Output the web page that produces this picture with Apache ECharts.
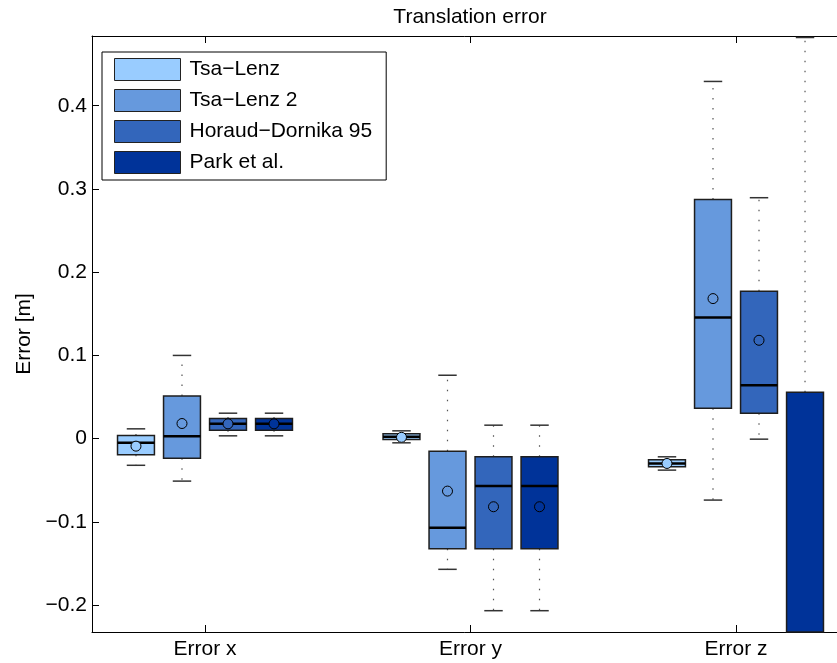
<!DOCTYPE html>
<html>
<head>
<meta charset="utf-8">
<script src="https://cdn.jsdelivr.net/npm/echarts@6/dist/echarts.min.js"></script>
<style>
html,body{margin:0;padding:0;background:#fff;overflow:hidden;}
#chart{width:837px;height:663px;}
</style>
</head>
<body>
<div id="chart"></div>
<script>
// ---------- data ----------
const categories = ['Error x', 'Error y', 'Error z'];
const methods = ['Tsa\u2212Lenz', 'Tsa\u2212Lenz 2', 'Horaud\u2212Dornika 95', 'Park et al.'];
const colors = ['#99CCFF', '#6699DD', '#3366BB', '#003399'];
const yTicks = [-0.2, -0.1, 0, 0.1, 0.2, 0.3, 0.4];

// [lower whisker, Q1, median, Q3, upper whisker] per category
const tsaLenzBox = [
  [-0.032, -0.0194, -0.005, 0.0038, 0.0118],
  [-0.005, -0.001, 0.0022, 0.0058, 0.0094],
  [-0.0378, -0.0338, -0.0298, -0.0254, -0.0218]
];
const tsaLenz2Box = [
  [-0.051, -0.0234, 0.003, 0.0514, 0.100],
  [-0.157, -0.1323, -0.107, -0.015, 0.0762],
  [-0.0738, 0.0366, 0.1455, 0.2875, 0.4292]
];
const horaudBox = [
  [0.0034, 0.0102, 0.0178, 0.0242, 0.0306],
  [-0.2067, -0.1323, -0.057, -0.0218, 0.0162],
  [-0.0006, 0.0306, 0.0642, 0.177, 0.2895]
];
const parkBox = [
  [0.0034, 0.0102, 0.0178, 0.0242, 0.0306],
  [-0.2067, -0.1323, -0.057, -0.0218, 0.0162],
  [-1.10, -0.62, -0.35, 0.0558, 0.482]
];
const tsaLenzMean = [-0.009, 0.0016, -0.0298];
const tsaLenz2Mean = [0.0182, -0.063, 0.1683];
const horaudMean = [0.0178, -0.0818, 0.1182];
const parkMean = [0.0178, -0.0818, -0.30];

const boxes = [tsaLenzBox, tsaLenz2Box, horaudBox, parkBox];
const means = [tsaLenzMean, tsaLenz2Mean, horaudMean, parkMean];

// ---------- layout constants ----------
const FONT = '"Liberation Sans", Arial, Helvetica, sans-serif';
const FS = 21;
const X_MIN = -0.4256, X_MAX = 2.4256;
const Y_MIN = -0.2323, Y_MAX = 0.4838;
const BOX_STEP = 0.1733;   // distance between boxes within a group
const BOX_W = 0.139;       // box width in x units

function fmtY(v) {
  const r = Math.round(v * 10) / 10;
  if (Math.abs(r) < 1e-9) return '0';
  return (r < 0 ? '\u2212' : '') + Math.abs(r).toFixed(1);
}

function makeSeries(mi) {
  const offset = (mi - 1.5) * BOX_STEP;
  const data = categories.map((c, ci) => [ci + offset].concat(boxes[mi][ci], [means[mi][ci]]));
  return {
    name: methods[mi],
    type: 'custom',
    itemStyle: { color: colors[mi], borderColor: '#222', borderWidth: 1 },
    data: data,
    encode: { x: 0, y: [1, 2, 3, 4, 5, 6] },
    renderItem: function (params, api) {
      const cs = params.coordSys;
      const top = cs.y, bot = cs.y + cs.height;
      const clampY = y => Math.max(top, Math.min(bot, y));
      const xc = api.value(0);
      const vLow = api.value(1), vQ1 = api.value(2), vMed = api.value(3),
            vQ3 = api.value(4), vHigh = api.value(5), vMean = api.value(6);
      const pc = api.coord([xc, vMed]);
      const pl = api.coord([xc - BOX_W / 2, vMed]);
      const pr = api.coord([xc + BOX_W / 2, vMed]);
      const cx = pc[0], xL = pl[0], xR = pr[0];
      const w = xR - xL;
      const yLow = api.coord([xc, vLow])[1];
      const yQ1 = api.coord([xc, vQ1])[1];
      const yMed = pc[1];
      const yQ3 = api.coord([xc, vQ3])[1];
      const yHigh = api.coord([xc, vHigh])[1];
      const yMean = api.coord([xc, vMean])[1];
      const capHalf = w / 4;
      const children = [];
      const dotted = { stroke: '#555', lineWidth: 1.2, lineDash: [1.5, 8.5] };
      // whiskers
      children.push({ type: 'line', shape: { x1: cx, y1: clampY(yQ3), x2: cx, y2: clampY(yHigh) }, style: dotted, silent: true });
      children.push({ type: 'line', shape: { x1: cx, y1: clampY(yQ1), x2: cx, y2: clampY(yLow) }, style: dotted, silent: true });
      // box
      const bt = clampY(yQ3), bb = clampY(yQ1);
      children.push({
        type: 'rect',
        shape: { x: xL, y: bt, width: w, height: bb - bt },
        style: { fill: colors[mi], stroke: '#1e1e1e', lineWidth: 1.5 },
        silent: true
      });
      // median
      if (yMed >= top && yMed <= bot) {
        children.push({ type: 'line', shape: { x1: xL, y1: yMed, x2: xR, y2: yMed }, style: { stroke: '#000', lineWidth: 2.5 }, silent: true });
      }
      // mean
      if (yMean >= top && yMean <= bot) {
        children.push({ type: 'circle', shape: { cx: cx, cy: yMean, r: 5 }, style: { fill: colors[mi], stroke: '#000', lineWidth: 1 }, silent: true });
      }
      // caps
      [yHigh, yLow].forEach(y => {
        if (y >= top - 0.5 && y <= bot + 0.5) {
          children.push({ type: 'line', shape: { x1: cx - capHalf, y1: y, x2: cx + capHalf, y2: y }, style: { stroke: '#333', lineWidth: 1.5 }, silent: true });
        }
      });
      return { type: 'group', children: children };
    }
  };
}

const chart = echarts.init(document.getElementById('chart'), null, { renderer: 'canvas' });

const axisLineStyle = { color: '#000', width: 1 };
const option = {
  animation: false,
  backgroundColor: '#fff',
  textStyle: { fontFamily: FONT },
  grid: { left: 92, width: 757, top: 36, bottom: 31, containLabel: false, outerBoundsMode: 'none' },
  graphic: [{
    type: 'text', x: 470, y: 17,
    style: { text: 'Translation error', font: FS + 'px ' + FONT, fill: '#000', textAlign: 'center', textVerticalAlign: 'middle' }
  }],
  legend: {
    orient: 'vertical',
    left: 102, top: 52,
    padding: [6, 14, 6, 12],
    itemWidth: 66, itemHeight: 22, itemGap: 8,
    icon: 'rect',
    selectedMode: false,
    backgroundColor: '#fff',
    borderColor: '#000', borderWidth: 1,
    itemStyle: { borderColor: '#222', borderWidth: 1 },
    textStyle: { fontSize: FS, color: '#000', fontFamily: FONT, padding: [0, 0, 0, 4] },
    data: methods
  },
  xAxis: [{
    type: 'value', min: X_MIN, max: X_MAX, position: 'bottom',
    axisLine: { show: true, onZero: false, lineStyle: axisLineStyle },
    axisTick: { show: true, inside: true, length: 7, lineStyle: axisLineStyle, customValues: [0, 1, 2] },
    axisLabel: { show: true, customValues: [0, 1, 2], formatter: v => categories[Math.round(v)] || '', fontSize: FS, color: '#000', fontFamily: FONT, margin: 7 },
    splitLine: { show: false }
  }, {
    type: 'value', min: X_MIN, max: X_MAX, position: 'top',
    axisLine: { show: true, onZero: false, lineStyle: axisLineStyle },
    axisTick: { show: true, inside: true, length: 7, lineStyle: axisLineStyle, customValues: [0, 1, 2] },
    axisLabel: { show: false },
    splitLine: { show: false }
  }],
  yAxis: [{
    type: 'value', min: Y_MIN, max: Y_MAX, position: 'left',
    name: 'Error [m]', nameLocation: 'middle', nameGap: 57, nameRotate: 90,
    nameTextStyle: { fontSize: FS, color: '#000', fontFamily: FONT },
    axisLine: { show: true, onZero: false, lineStyle: axisLineStyle },
    axisTick: { show: true, inside: true, length: 7, lineStyle: axisLineStyle, customValues: yTicks },
    axisLabel: { show: true, customValues: yTicks, formatter: fmtY, fontSize: FS, color: '#000', fontFamily: FONT, margin: 5 },
    splitLine: { show: false }
  }],
  series: methods.map((m, i) => makeSeries(i))
};
chart.setOption(option);
</script>
</body>
</html>
